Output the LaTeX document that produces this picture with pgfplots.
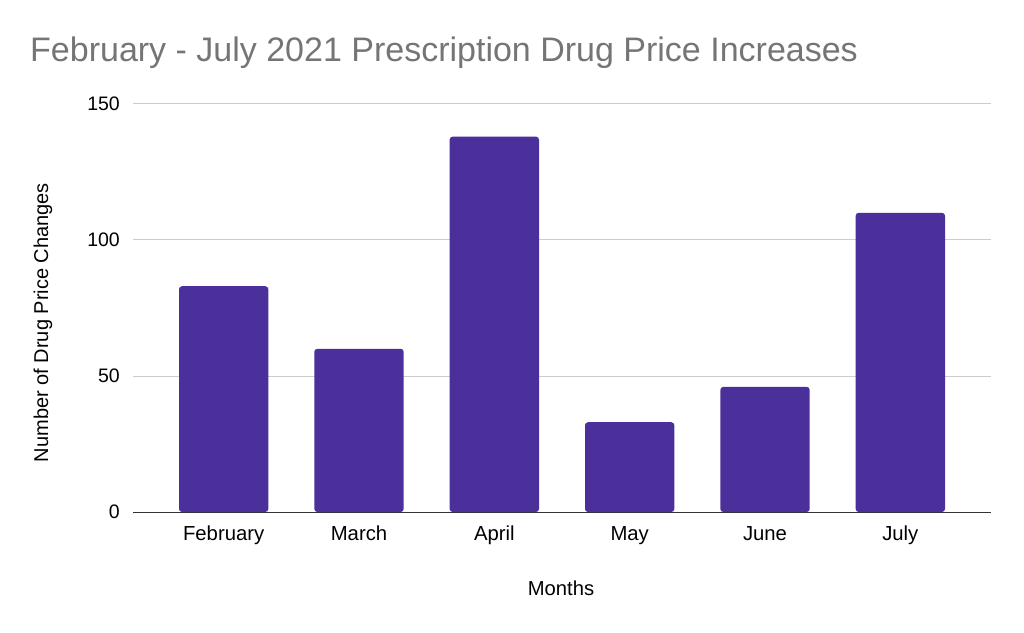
\documentclass[border=0pt]{standalone}
\usepackage{pgfplots}
\pgfplotsset{compat=1.18}
\usepackage{fontspec}
\setmainfont{Liberation Sans}
\definecolor{barpurple}{RGB}{75,47,155}
\definecolor{titlegray}{RGB}{117,117,117}
\definecolor{gridgray}{RGB}{204,204,204}
\definecolor{axisdark}{RGB}{51,51,51}
\begin{document}
\begin{tikzpicture}[x=1pt,y=1pt]
\useasboundingbox (0,0) rectangle (1024,632);
\begin{axis}[
  at={(133pt,120pt)}, anchor=south west,
  width=858pt, height=408pt, scale only axis,
  xmin=-0.67, xmax=5.67, ymin=0, ymax=150,
  ytick={0,50,100,150},
  xtick=data,
  xticklabels={February,March,April,May,June,July},
  ybar, bar width=0.66,
  axis x line*=bottom, axis y line*=left,
  y axis line style={draw=none},
  x axis line style={draw=axisdark, line width=1pt, -},
  major tick length=0pt,
  ymajorgrids, grid style={gridgray, line width=1pt},
  /pgf/number format/assume math mode=true,
  ticklabel style={font=\fontsize{19.5}{22}\selectfont, text=black},
  yticklabel style={inner sep=0pt, anchor=east, xshift=-13pt},
  xticklabel style={inner sep=0pt, anchor=north, yshift=-14pt, font=\fontsize{20.3}{23}\selectfont},
  clip=false,
]
\addplot[fill=barpurple, draw=none, rounded corners=3pt] coordinates {
(0,83) (1,60) (2,138) (3,33) (4,46) (5,110)
};
\end{axis}
\node[anchor=base west, text=titlegray, inner sep=0pt, font=\fontsize{34}{40}\selectfont] at (30,570) {February - July 2021 Prescription Drug Price Increases};
\node[rotate=90, inner sep=0pt, font=\fontsize{20}{23}\selectfont] at (43,309.5) {Number of Drug Price Changes};
\node[inner sep=0pt, font=\fontsize{20.2}{23}\selectfont] at (561,44) {Months};
\end{tikzpicture}
\end{document}
